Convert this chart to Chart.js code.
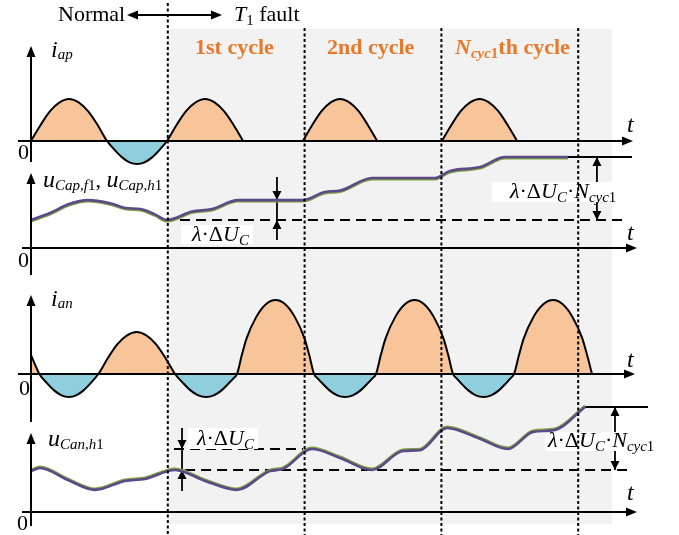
<!DOCTYPE html>
<html>
<head>
<meta charset="utf-8">
<script src="https://cdn.jsdelivr.net/npm/chart.js@4.4.1/dist/chart.umd.min.js"></script>
<style>
  html, body { margin: 0; padding: 0; background: #fff; }
  canvas { display: block; }
</style>
</head>
<body>
<canvas id="waveChart" width="679" height="535"></canvas>
<script>
// Time is counted in supply cycles; the T1 fault starts at t = 1.
const cycleEdges = [1, 2, 3, 4];

// Upper arm current i_ap (diode clips it to the positive half after the fault)
const iApTime = [0, 0.07, 0.139, 0.209, 0.278, 0.348, 0.417, 0.487, 0.556,
  0.611, 0.666, 0.72, 0.775, 0.83, 0.885, 0.94, 0.994,
  1.064, 1.133, 1.203, 1.272, 1.342, 1.411, 1.481, 1.55, 1.77,
  1.988, 2.056, 2.124, 2.191, 2.259, 2.327, 2.395, 2.462, 2.53, 2.77,
  3.004, 3.073, 3.141, 3.21, 3.279, 3.347, 3.416, 3.484, 3.553];
const iApVal = [0, 0.38, 0.71, 0.92, 1, 0.92, 0.71, 0.38, 0,
  -0.21, -0.39, -0.51, -0.55, -0.51, -0.39, -0.21, 0,
  0.38, 0.71, 0.92, 1, 0.92, 0.71, 0.38, 0, null,
  0, 0.38, 0.71, 0.92, 1, 0.92, 0.71, 0.38, 0, null,
  0, 0.38, 0.71, 0.92, 1, 0.92, 0.71, 0.38, 0];

// Lower arm current i_an (positive half grows after the fault)
const iAnTime = [0, 0.061,
  0.115, 0.169, 0.223, 0.277, 0.33, 0.384, 0.438, 0.492,
  0.562, 0.632, 0.702, 0.773, 0.843, 0.913, 0.983, 1.053,
  1.11, 1.166, 1.223, 1.28, 1.336, 1.393, 1.449, 1.478, 1.506,
  1.541, 1.576, 1.647, 1.717, 1.788, 1.858, 1.928, 1.999, 2.034, 2.069,
  2.097, 2.126, 2.182, 2.239, 2.296, 2.352, 2.409, 2.465, 2.494, 2.522,
  2.557, 2.592, 2.663, 2.733, 2.804, 2.874, 2.944, 3.015, 3.05, 3.085,
  3.113, 3.141, 3.197, 3.252, 3.308, 3.364, 3.42, 3.475, 3.503, 3.531,
  3.567, 3.602, 3.673, 3.745, 3.816, 3.887, 3.958, 4.03, 4.065, 4.101];
const iAnVal = [0.45, 0,
  -0.21, -0.39, -0.51, -0.55, -0.51, -0.39, -0.21, 0,
  0.38, 0.71, 0.92, 1, 0.92, 0.71, 0.38, 0,
  -0.21, -0.39, -0.51, -0.55, -0.51, -0.39, -0.21, -0.11, 0,
  0.45, 0.85, 1.36, 1.66, 1.76, 1.66, 1.36, 0.85, 0.45, 0,
  -0.11, -0.21, -0.39, -0.51, -0.55, -0.51, -0.39, -0.21, -0.11, 0,
  0.45, 0.85, 1.36, 1.66, 1.76, 1.66, 1.36, 0.85, 0.45, 0,
  -0.11, -0.21, -0.39, -0.51, -0.55, -0.51, -0.39, -0.21, -0.11, 0,
  0.45, 0.85, 1.36, 1.66, 1.76, 1.66, 1.36, 0.85, 0.45, 0];

// Upper arm capacitor voltage (u_Cap,f1 and u_Cap,h1 overlap)
const uCapTime = [0, 0.139, 0.278, 0.417, 0.577, 0.694, 0.8, 0.906, 0.994,
  1.177, 1.323, 1.513, 1.988, 2.149, 2.259, 2.493, 2.953, 3.063, 3.282, 3.465, 3.925];
const uCapVal = [1.0, 1.25, 1.57, 1.71, 1.6, 1.43, 1.39, 1.2, 1.0,
  1.3, 1.39, 1.71, 1.71, 2.0, 2.05, 2.5, 2.5, 2.75, 2.89, 3.25, 3.25];

// Lower arm capacitor voltage u_Can,h1
const uCanTime = [0, 0.066, 0.27, 0.468, 0.687, 0.833, 1.053, 1.272, 1.506, 1.747, 1.842,
  2.054, 2.259, 2.493, 2.719, 2.844, 3.041, 3.268, 3.487, 3.67, 3.83, 4.05];
const uCanVal = [1.46, 1.57, 1.14, 0.79, 1.11, 1.18, 1.5, 1.11, 0.79, 1.46, 1.54,
  2.25, 1.93, 1.5, 2.18, 2.21, 3.0, 2.64, 2.25, 2.86, 2.93, 3.75];

// Voltage levels marked with λ·ΔU_C arrows
const capLevels = [1.0, 1.71, 3.25];   // at fault, after 1st cycle, after N_cyc1 cycles
const canLevels = [1.5, 2.25, 3.75];

// ---- layout ----
const W = 679, H = 535;
const X0 = 31, PX_PER_CYCLE = 136.8;
const panelLayout = { yA: [141, 42], yB: [248, 28], yC: [374, 42], yD: [512, 28] }; // zero line px, px per unit

const scales = { x: { type: 'linear', display: false, min: -X0 / PX_PER_CYCLE, max: (W - X0) / PX_PER_CYCLE } };
Object.entries(panelLayout).forEach(([id, [zero, unit]]) => {
  scales[id] = { type: 'linear', display: false, min: -(H - zero) / unit, max: zero / unit };
});

const ORANGE_FILL = '#F8C59B', BLUE_FILL = '#8FCEDC';
const PURPLE = '#5C4A88', GREEN = '#7EA241', ORANGE_TEXT = '#E8782A';

const SERIF = '"Liberation Serif", "Times New Roman", serif';
const font = (size, style = '') => `${style} ${size}px ${SERIF}`.trim();
const R22 = font(22), I22 = font(22, 'italic'), I24 = font(24, 'italic');
const R15 = font(15), I15 = font(15, 'italic');
const B22 = font(22, 'bold'), BI22 = font(22, 'italic bold'), B15 = font(15, 'bold'), BI15 = font(15, 'italic bold');

const pts = (ts, vs) => ts.map((t, i) => ({ x: t, y: vs[i] }));

function head(ctx, x, y, dx, dy, len, half) {
  ctx.beginPath();
  ctx.moveTo(x, y);
  ctx.lineTo(x - dx * len - dy * half, y - dy * len + dx * half);
  ctx.lineTo(x - dx * len + dy * half, y - dy * len - dx * half);
  ctx.closePath();
  ctx.fill();
}

function line(ctx, x1, y1, x2, y2) {
  ctx.beginPath();
  ctx.moveTo(x1, y1);
  ctx.lineTo(x2, y2);
  ctx.stroke();
}

function rich(ctx, x, y, runs) {
  let cx = x;
  runs.forEach(([txt, f, dy]) => {
    ctx.font = f;
    ctx.fillText(txt, cx, y + (dy || 0));
    cx += ctx.measureText(txt).width;
  });
}

const lamDU = [['λ', I22], ['·', R22], ['Δ', R22], ['U', I22], ['C', I15, 4]];
const lamDUN = lamDU.concat([['·', R22], ['N', I22], ['cyc', I15, 4], ['1', R15, 4]]);

const texts = [
  { x: 58, y: 21, runs: [['Normal', R22]] },
  { x: 234, y: 21, runs: [['T', I22], ['1', R15, 4], [' fault', R22]] },
  { x: 195, y: 54, color: ORANGE_TEXT, runs: [['1st cycle', B22]] },
  { x: 327, y: 54, color: ORANGE_TEXT, runs: [['2nd cycle', B22]] },
  { x: 455, y: 54, color: ORANGE_TEXT, runs: [['N', BI22], ['cyc', BI15, 4], ['1', B15, 4], ['th cycle', B22]] },
  { x: 51, y: 57, runs: [['i', I24], ['ap', I15, 2]] },
  { x: 43, y: 187, runs: [['u', I24], ['Cap,f', I15, 3], ['1', R15, 3], [', ', R22], ['u', I24], ['Cap,h', I15, 3], ['1', R15, 3]] },
  { x: 51, y: 306, runs: [['i', I24], ['an', I15, 2]] },
  { x: 48, y: 446, runs: [['u', I24], ['Can,h', I15, 3], ['1', R15, 3]] },
  { x: 627, y: 132, runs: [['t', I24]] },
  { x: 627, y: 240, runs: [['t', I24]] },
  { x: 627, y: 367, runs: [['t', I24]] },
  { x: 627, y: 500, runs: [['t', I24]] },
  { x: 18, y: 159, runs: [['0', R22]] },
  { x: 18, y: 267, runs: [['0', R22]] },
  { x: 19, y: 395, runs: [['0', R22]] },
  { x: 17, y: 530, runs: [['0', R22]] },
  { x: 192, y: 241, runs: lamDU },
  { x: 510, y: 198, runs: lamDUN },
  { x: 197, y: 445, runs: lamDU },
  { x: 548, y: 447, runs: lamDUN }
];

// white boxes behind the λ·ΔU_C labels
const labelBoxes = [[181, 225, 72, 19], [492, 182, 121, 20], [188, 428, 70, 21], [545, 432, 108, 19]];

// panel axes: [scale id, h-axis left px, arrow tip px, v-axis arrow tip px, v-axis bottom px]
const panelAxes = [['yA', 18, 633, 46, 162], ['yB', 22, 637, 173, 275], ['yC', 18, 635, 295, 422], ['yD', 22, 637, 433, 526]];

const diagram = {
  id: 'diagram',
  beforeDatasetsDraw(chart) {
    const { ctx } = chart;
    const sx = chart.scales.x, yB = chart.scales.yB, yD = chart.scales.yD;
    const px = t => sx.getPixelForValue(t);
    ctx.save();
    // fault period background
    ctx.fillStyle = '#F2F2F2';
    ctx.fillRect(px(cycleEdges[0]), 29, 612 - px(cycleEdges[0]), 495);

    ctx.strokeStyle = '#000';
    ctx.fillStyle = '#000';
    ctx.lineWidth = 2;

    // reference levels
    ctx.setLineDash([10, 6]);
    line(ctx, px(1.089), yB.getPixelForValue(capLevels[0]), px(4.357), yB.getPixelForValue(capLevels[0]));
    line(ctx, px(1.045), yD.getPixelForValue(canLevels[1]), px(1.988), yD.getPixelForValue(canLevels[1]));
    line(ctx, px(1.126), yD.getPixelForValue(canLevels[0]), px(4.393), yD.getPixelForValue(canLevels[0]));
    ctx.setLineDash([]);
    line(ctx, px(3.925), yB.getPixelForValue(capLevels[2]), px(4.393), yB.getPixelForValue(capLevels[2]));
    line(ctx, px(4.05), yD.getPixelForValue(canLevels[2]), px(4.51), yD.getPixelForValue(canLevels[2]));

    // λ·ΔU_C dimension arrows
    ctx.lineWidth = 1.8;
    let ax = px(1.798), top = yB.getPixelForValue(capLevels[1]), bot = yB.getPixelForValue(capLevels[0]);
    line(ctx, ax, top - 23, ax, bot + 20);
    head(ctx, ax, top, 0, 1, 9, 4.5);
    head(ctx, ax, bot, 0, -1, 9, 4.5);

    ax = px(4.137); top = yB.getPixelForValue(capLevels[2]);
    line(ctx, ax, top, ax, bot);
    head(ctx, ax, top, 0, -1, 9, 4.5);
    head(ctx, ax, bot, 0, 1, 9, 4.5);

    ax = px(1.104); top = yD.getPixelForValue(canLevels[1]); bot = yD.getPixelForValue(canLevels[0]);
    line(ctx, ax, top - 21, ax, bot + 21);
    head(ctx, ax, top, 0, 1, 9, 4.5);
    head(ctx, ax, bot, 0, -1, 9, 4.5);

    ax = px(4.269); top = yD.getPixelForValue(canLevels[2]);
    line(ctx, ax, top, ax, bot);
    head(ctx, ax, top, 0, -1, 9, 4.5);
    head(ctx, ax, bot, 0, 1, 9, 4.5);

    ctx.fillStyle = '#fff';
    labelBoxes.forEach(([x, y, w, h]) => ctx.fillRect(x, y, w, h));
    ctx.restore();
  },
  beforeDatasetDraw(chart, args) {
    const shift = chart.data.datasets[args.index].shift;
    if (shift) { chart.ctx.save(); chart.ctx.translate(0, shift); }
  },
  afterDatasetDraw(chart, args) {
    if (chart.data.datasets[args.index].shift) chart.ctx.restore();
  },
  afterDatasetsDraw(chart) {
    const { ctx } = chart;
    const sx = chart.scales.x;
    const px = t => sx.getPixelForValue(t);
    ctx.save();
    ctx.strokeStyle = '#000';
    ctx.fillStyle = '#000';
    ctx.lineWidth = 2;

    // panel axes with arrows
    const x0 = px(0);
    panelAxes.forEach(([id, left, right, vTop, vBot]) => {
      const y0 = chart.scales[id].getPixelForValue(0);
      line(ctx, left, y0, right - 8, y0);
      head(ctx, right, y0, 1, 0, 11, 4.5);
      line(ctx, x0, vBot, x0, vTop + 8);
      head(ctx, x0, vTop, 0, -1, 11, 4.5);
    });

    // Normal <-> T1 fault arrow
    line(ctx, 135, 15, 214, 15);
    head(ctx, 127, 15, -1, 0, 11, 4.5);
    head(ctx, 222, 15, 1, 0, 11, 4.5);

    // cycle boundaries
    ctx.setLineDash([3, 2.5]);
    cycleEdges.forEach((t, i) => line(ctx, px(t), i === 0 ? 3 : 28, px(t), H));
    ctx.setLineDash([]);

    ctx.textBaseline = 'alphabetic';
    texts.forEach(tx => {
      ctx.fillStyle = tx.color || '#000';
      rich(ctx, tx.x, tx.y, tx.runs);
    });
    ctx.restore();
  }
};

const currentStyle = {
  borderColor: '#000', borderWidth: 2, cubicInterpolationMode: 'monotone',
  borderJoinStyle: 'round', fill: { target: 'origin', above: ORANGE_FILL, below: BLUE_FILL }
};
const voltageStyle = { borderWidth: 2.6, cubicInterpolationMode: 'monotone', borderJoinStyle: 'round', fill: false };

new Chart(document.getElementById('waveChart'), {
  type: 'line',
  data: {
    datasets: [
      Object.assign({ label: 'i_ap', data: pts(iApTime, iApVal), yAxisID: 'yA' }, currentStyle),
      Object.assign({ label: 'i_an', data: pts(iAnTime, iAnVal), yAxisID: 'yC' }, currentStyle),
      Object.assign({ label: 'u_Cap,h1', data: pts(uCapTime, uCapVal), yAxisID: 'yB', borderColor: PURPLE }, voltageStyle),
      Object.assign({ label: 'u_Cap,f1', data: pts(uCapTime, uCapVal), yAxisID: 'yB', borderColor: GREEN, shift: 1.2 }, voltageStyle),
      Object.assign({ label: 'u_Can,h1', data: pts(uCanTime, uCanVal), yAxisID: 'yD', borderColor: PURPLE }, voltageStyle),
      Object.assign({ label: 'u_Can,f1', data: pts(uCanTime, uCanVal), yAxisID: 'yD', borderColor: GREEN, shift: -1.2 }, voltageStyle)
    ]
  },
  options: {
    responsive: false,
    animation: false,
    devicePixelRatio: 1,
    layout: { padding: 0 },
    elements: { point: { radius: 0 } },
    plugins: { legend: { display: false }, tooltip: { enabled: false } },
    scales: scales
  },
  plugins: [diagram]
});
</script>
</body>
</html>
